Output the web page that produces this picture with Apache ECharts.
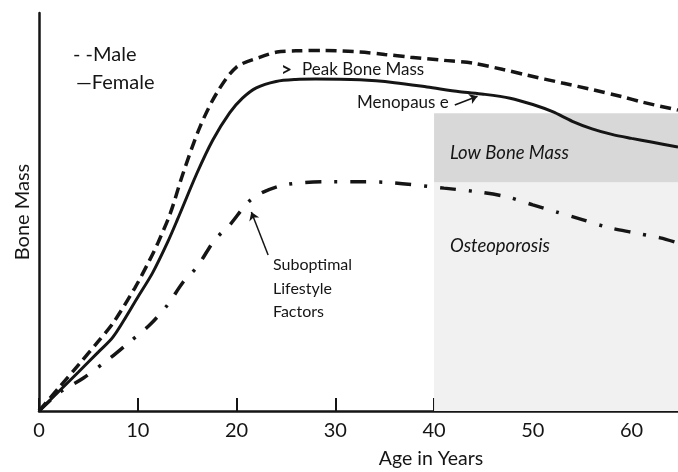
<!DOCTYPE html>
<html>
<head>
<meta charset="utf-8">
<script src="https://cdn.jsdelivr.net/npm/echarts@6/dist/echarts.min.js"></script>
<style>
  html, body { margin: 0; padding: 0; background: #fff; }
  #chart { width: 678px; height: 472px; }
</style>
</head>
<body>
<div id="chart"></div>
<script>
// age (years) on x, relative bone mass on y
const ageTicks = [0, 10, 20, 30, 40, 50, 60];
const maxAge = 64.7;

const maleAges = [0, 2, 4, 6, 7.5, 9.7, 11.2, 12, 13.3, 14.6, 16.3, 18, 20, 22.4, 24.1, 26, 29, 32.5, 35, 37.6, 41, 43.9, 47, 49.4, 53, 56.1, 59, 61.1, 64.7];
const maleMass = [0, 5.8, 11.6, 17.5, 22.1, 30.9, 37.9, 42, 49.7, 59.8, 71.4, 79.9, 86.4, 88.9, 90.2, 90.5, 90.6, 90.2, 89.6, 88.9, 88.1, 87.4, 85.8, 84.4, 82.4, 80.7, 79.0, 77.6, 75.6];

const femaleAges = [0, 2, 4, 6, 7.5, 10, 11.5, 13, 14, 16, 17.6, 19.3, 20.6, 22, 24, 26, 28, 32.5, 36, 39.3, 42.6, 45, 47.7, 50, 52, 54, 56, 58, 60, 62, 64.7];
const femaleMass = [0, 4.9, 9.8, 14.8, 18.6, 28.6, 34.7, 42.3, 48, 59.8, 68.1, 74.9, 78.6, 81.2, 82.8, 83.3, 83.4, 83.2, 82.5, 81.4, 80.2, 79.6, 78.6, 77.0, 75.2, 72.8, 70.9, 69.5, 68.5, 67.6, 66.3];

const lifestyleAges = [0, 2, 4.5, 7.2, 9, 11.2, 13, 14.6, 16, 17.8, 19.3, 21.2, 22.7, 25, 29, 33, 36, 41, 44.6, 47.4, 50, 52.4, 55, 57.5, 60, 62.9, 64.7];
const lifestyleMass = [0, 4.5, 8.3, 13.3, 17, 21.6, 26.6, 32.4, 36.2, 43, 46.7, 52.5, 55, 56.9, 57.6, 57.6, 57.3, 56, 55, 53.8, 51.8, 50, 48.1, 46.2, 44.9, 43.5, 42.2];

// shaded zones start at age 40
const zoneStartAge = 40;
const osteoporosisRange = [0, 57.5];
const lowBoneMassRange = [57.5, 74.8];

const ink = '#151515';
const font = 'Lato, "Open Sans", sans-serif';

function pairs(xs, ys) {
  return xs.map((x, i) => [x, ys[i]]);
}

const chart = echarts.init(document.getElementById('chart'));

function label(text, x, y, size, extra) {
  return {
    type: 'text',
    x: x,
    y: y,
    z: 10,
    style: Object.assign({
      text: text,
      fontSize: size,
      fontFamily: font,
      fill: ink,
      align: 'left',
      verticalAlign: 'middle',
    }, extra || {}),
  };
}

const option = {
  animation: false,
  grid: { left: 39, right: 0, top: 13, bottom: 61 },
  xAxis: {
    type: 'value',
    min: 0,
    max: maxAge,
    interval: 10,
    splitLine: { show: false },
    axisLine: { lineStyle: { color: ink, width: 2.5 } },
    axisTick: {
      inside: true,
      length: 13,
      customValues: ageTicks,
      lineStyle: { color: ink, width: 2 },
    },
    axisLabel: {
      customValues: ageTicks,
      margin: 10,
      fontSize: 20,
      fontFamily: font,
      color: ink,
    },
  },
  yAxis: {
    type: 'value',
    min: 0,
    max: 100,
    name: 'Bone Mass',
    nameLocation: 'middle',
    nameGap: 6,
    nameTextStyle: { fontSize: 20, fontFamily: font, color: ink },
    splitLine: { show: false },
    axisTick: { show: false },
    axisLabel: { show: false },
    axisLine: { show: true, lineStyle: { color: ink, width: 2.5 } },
  },
  series: [
    {
      name: 'Male',
      type: 'line',
      data: pairs(maleAges, maleMass),
      symbol: 'none',
      smooth: 0.3,
      z: 5,
      lineStyle: { color: ink, width: 3.5, type: [11, 6], cap: 'butt' },
      markArea: {
        silent: true,
        z: 1,
        data: [
          [
            { xAxis: zoneStartAge, yAxis: osteoporosisRange[0], itemStyle: { color: '#f1f1f1' } },
            { xAxis: maxAge, yAxis: osteoporosisRange[1] },
          ],
          [
            { xAxis: zoneStartAge, yAxis: lowBoneMassRange[0], itemStyle: { color: '#d8d8d8' } },
            { xAxis: maxAge, yAxis: lowBoneMassRange[1] },
          ],
        ],
      },
    },
    {
      name: 'Female',
      type: 'line',
      data: pairs(femaleAges, femaleMass),
      symbol: 'none',
      smooth: 0.3,
      z: 5,
      lineStyle: { color: ink, width: 3 },
      markLine: {
        silent: true,
        symbol: ['none', 'arrow'],
        symbolSize: 8,
        label: { show: false },
        lineStyle: { color: ink, width: 1.5, type: 'solid' },
        data: [
          [{ coord: [23.2, 39.2] }, { coord: [21.5, 50.0] }],
          [{ coord: [42.1, 76.9] }, { coord: [44.4, 79.1] }],
        ],
      },
    },
    {
      name: 'Suboptimal Lifestyle Factors',
      type: 'line',
      data: pairs(lifestyleAges, lifestyleMass),
      symbol: 'none',
      smooth: 0.3,
      z: 5,
      lineStyle: { color: ink, width: 3.5, type: [16, 13, 3, 13], cap: 'butt' },
    },
  ],
  graphic: [
    label('- -Male', 73, 55, 20),
    label('\u2014Female', 76, 83, 20),
    label('>', 281, 70, 19, { fontWeight: 'bold' }),
    label('Peak Bone Mass', 302, 70, 17),
    label('Menopaus e', 357, 103, 17),
    label('Low Bone Mass', 450, 153, 18.5, { fontStyle: 'italic' }),
    label('Osteoporosis', 450, 246, 18.5, { fontStyle: 'italic' }),
    label('Suboptimal', 273, 265, 16),
    label('Lifestyle', 273, 289, 16),
    label('Factors', 273, 312, 16),
    label('Age in Years', 431, 459, 19.5, { align: 'center' }),
  ],
};

chart.setOption(option);
</script>
</body>
</html>
